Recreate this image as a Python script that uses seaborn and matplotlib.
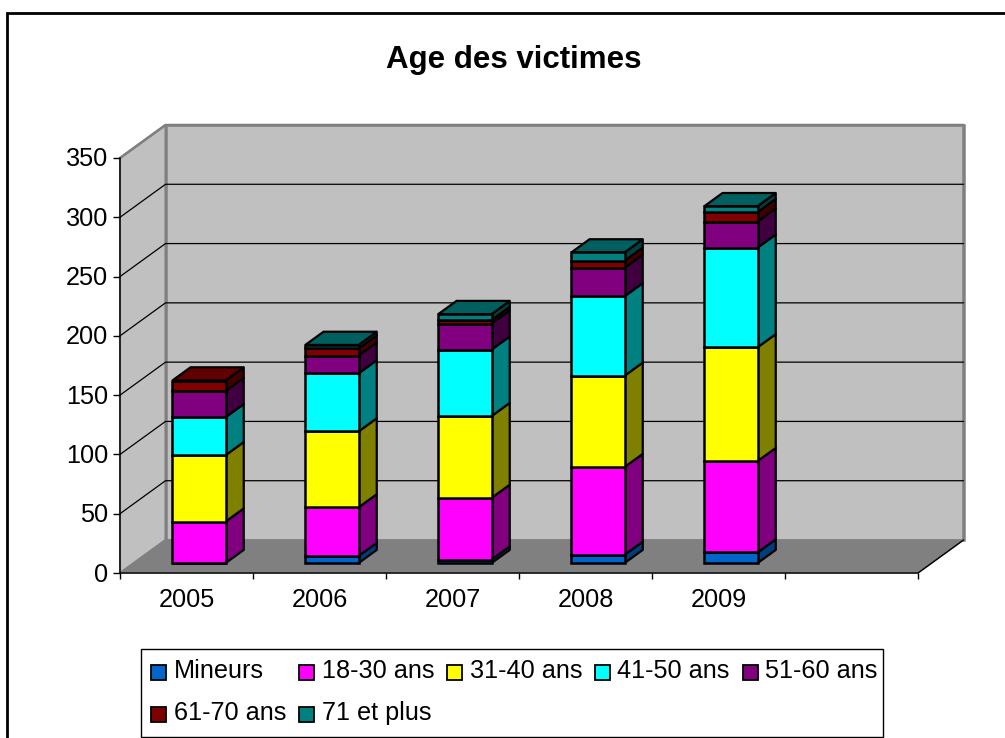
import matplotlib
matplotlib.use("Agg")
import matplotlib.pyplot as plt
from matplotlib.lines import Line2D
from matplotlib.patches import Polygon, Rectangle
from matplotlib.transforms import Affine2D
import numpy as np
import pandas as pd
import seaborn as sns

years = ["2005", "2006", "2007", "2008", "2009"]
series = ["Mineurs", "18-30 ans", "31-40 ans", "41-50 ans", "51-60 ans", "61-70 ans", "71 et plus"]
mineurs = [0, 6, 3, 7, 9]
a18_30 = [35, 41, 52, 74, 77]
a31_40 = [56, 64, 69, 77, 96]
a41_50 = [32, 49, 56, 67, 84]
a51_60 = [22, 15, 22, 24, 22]
a61_70 = [9, 6, 3, 6, 8]
a71_plus = [0, 3, 5, 7, 5]
values = [mineurs, a18_30, a31_40, a41_50, a51_60, a61_70, a71_plus]
front_colors = ["#0066CC", "#FF00FF", "#FFFF00", "#00FFFF", "#800080", "#800000", "#008080"]
side_colors = ["#003D7A", "#800080", "#808000", "#008080", "#400040", "#400000", "#004040"]
top_colors = ["#00508F", "#B000B0", "#B0B000", "#00A0A0", "#5A005A", "#600000", "#006060"]

W, H = 1005, 738
sns.set_theme(style="white")
plt.rcParams["font.family"] = ["Liberation Sans", "DejaVu Sans"]
fig = plt.figure(figsize=(W / 100, H / 100), dpi=100, facecolor="white")

# frame: only the top and left edges fall inside the picture
fig.add_artist(Line2D([7 / W, 7 / W, 1], [0, 1 - 13 / H, 1 - 13 / H], transform=fig.transFigure,
                      color="black", lw=2.0, solid_joinstyle="miter"))

x0, x1, yb, yt = 120, 918, 573, 158
ax = fig.add_axes([x0 / W, 1 - yb / H, (x1 - x0) / W, (yb - yt) / H])
ax.patch.set_alpha(0)
for s in ax.spines.values():
    s.set_visible(False)

ncat = 6
ymax = 350
DX = 45.5 / ((x1 - x0) / ncat)
DY = 33.0 / ((yb - yt) / ymax)
D0, D1 = 0.30, 0.70
BW = 0.40
BAR_SHIFT = -1.2 / ((x1 - x0) / ncat)


def pr(x, v, d):
    return (x + d * DX, v + d * DY)


L, R = -0.5, ncat - 0.5
ax.add_patch(Polygon([pr(L, 0, 1), pr(R, 0, 1), pr(R, ymax, 1), pr(L, ymax, 1)], fc="#C0C0C0", ec="#808080", lw=1.8, zorder=0, clip_on=False))
ax.add_patch(Polygon([pr(L, 0, 0), pr(L, 0, 1), pr(L, ymax, 1), pr(L, ymax, 0)], fc="#C0C0C0", ec="#808080", lw=1.5, zorder=0.1, clip_on=False))
ax.add_patch(Polygon([pr(L, 0, 0), pr(R, 0, 0), pr(R, 0, 1), pr(L, 0, 1)], fc="#808080", ec="#808080", lw=1, zorder=0.2, clip_on=False))

for v in range(50, ymax, 50):
    ax.plot(*zip(pr(L, v, 0), pr(L, v, 1), pr(R, v, 1)), color="black", lw=0.9, zorder=0.5, clip_on=False)
ax.plot(*zip(pr(L, ymax, 0), pr(L, 0, 0), pr(R, 0, 0), pr(R, 0, 1)), color="black", lw=1.0, zorder=0.6, clip_on=False, solid_joinstyle="miter")
ax.plot(*zip(pr(L, ymax, 0), pr(L, ymax, 1), pr(R, ymax, 1), pr(R, 0, 1)), color="#808080", lw=1.8, zorder=0.4, clip_on=False)

# stacked front faces
order = years + [" "]
bottom = np.zeros(len(years))
shift = Affine2D().translate(D0 * DX + BAR_SHIFT, D0 * DY)
for i, (name, vals) in enumerate(zip(series, values)):
    vals = np.array(vals, dtype=float)
    df = pd.DataFrame({"annee": years, "victimes": vals})
    before = len(ax.patches)
    sns.barplot(data=df, x="annee", y="victimes", order=order, bottom=bottom, width=BW, color=front_colors[i],
                saturation=1, edgecolor="black", linewidth=1.8, ax=ax, zorder=3 + i * 0.01, clip_on=False, errorbar=None)
    for p in ax.patches[before:]:
        p.set_transform(shift + ax.transData)
        p.set_facecolor(front_colors[i])
    for j, (b, v) in enumerate(zip(bottom, vals)):
        if v <= 0:
            continue
        xr = j + BW / 2 + BAR_SHIFT
        ax.add_patch(Polygon([pr(xr, b, D0), pr(xr, b, D1), pr(xr, b + v, D1), pr(xr, b + v, D0)],
                             fc=side_colors[i], ec="black", lw=1.6, zorder=2.5 + i * 0.01, clip_on=False, joinstyle="round"))
    bottom = bottom + vals

# top caps
last = [[k for k in range(len(series)) if values[k][j] > 0][-1] for j in range(len(years))]
for j, tot in enumerate(bottom):
    xl, xr = j - BW / 2 + BAR_SHIFT, j + BW / 2 + BAR_SHIFT
    ax.add_patch(Polygon([pr(xl, tot, D0), pr(xr, tot, D0), pr(xr, tot, D1), pr(xl, tot, D1)],
                         fc=top_colors[last[j]], ec="black", lw=1.6, zorder=2.9, clip_on=False))

ax.set_xlim(L, R)
ax.set_ylim(0, ymax)
ax.set_xlabel("")
ax.set_ylabel("")
ax.set_yticks(range(0, ymax + 1, 50))
ax.set_xticks(np.arange(L, R + 1), labels=[""] * (ncat + 1))
ax.set_xticks(np.arange(len(order)), labels=order, minor=True)
ax.tick_params(axis="x", which="major", direction="out", length=4.5, width=1, color="black", bottom=True)
ax.tick_params(axis="x", which="minor", length=0, pad=11, labelsize=18.2, labelcolor="black", bottom=False)
ax.tick_params(axis="y", direction="out", length=5, width=1, color="black", left=True, pad=3.5, labelsize=18.2, labelcolor="black")
down = Affine2D().translate(0, -1.5)
for t in ax.get_yticklabels():
    t.set_verticalalignment("center")
    t.set_transform(t.get_transform() + down)

fig.text(514 / W, 1 - 60 / H, "Age des victimes", ha="center", va="center", fontsize=22.5, fontweight="bold", color="black")

# legend
box_l, box_t, box_r, box_b = 141, 649, 883, 737
fig.add_artist(Rectangle((box_l / W, 1 - box_b / H), (box_r - box_l) / W, (box_b - box_t) / H, transform=fig.transFigure,
                         fc="white", ec="black", lw=1.0))
rows = [[(151, 174, 672, 0), (299, 322, 672, 1), (447, 470, 672, 2), (595, 617, 672, 3), (743, 765, 672, 4)],
        [(151, 174, 714, 5), (299, 322, 714, 6)]]
for row in rows:
    for px, tx, py, k in row:
        fig.add_artist(Rectangle((px / W, 1 - (py + 7.5) / H), 15 / W, 15 / H, transform=fig.transFigure, fc=front_colors[k], ec="black", lw=1.3))
        fig.text(tx / W, 1 - (py - 1) / H, series[k], ha="left", va="center", fontsize=18.2, color="black")

fig.savefig("out.png", dpi=100)
